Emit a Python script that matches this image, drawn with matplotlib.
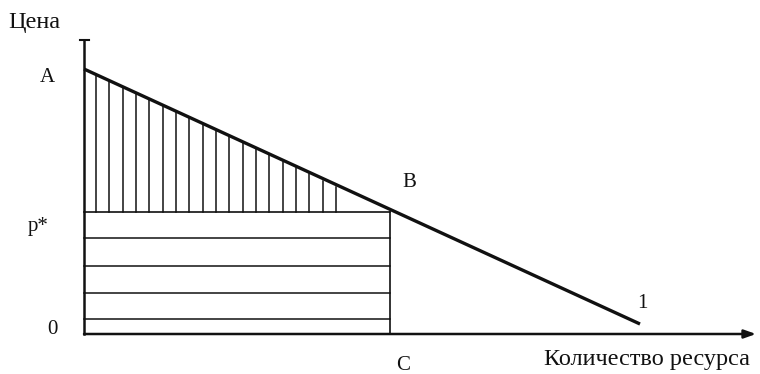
import matplotlib.pyplot as plt

# точки кривой спроса (цена от количества)
price_A = 265
p_star = 122
q_C = 306
q_end = 556
price_end = 10

# уровни горизонтальной штриховки (прямоугольник 0-p*-B-C)
h_levels = [96, 68, 41, 15]
# вертикальная штриховка треугольника A-p*-B
v_levels = [12, 25, 39, 52, 65, 79, 92, 105, 119, 132, 145, 159, 172, 185,
            199, 212, 225, 239, 252]

labels = {"A": (-37, 257), "B": (325, 152), "p*": (-46, 108),
          "0": (-32, 4), "C": (319, -31), "1": (558, 30)}


def demand(q):
    return price_A + (p_star - price_A) * q / q_C


plt.rcParams['font.family'] = ['Liberation Serif', 'DejaVu Serif']

fig = plt.figure(figsize=(7.6, 3.74), dpi=100)
ax = fig.add_axes([0, 0, 1, 1])
ax.set_xlim(-84, 676)
ax.set_ylim(-40, 334)
ax.axis('off')

ink = '#111111'

# оси
ax.annotate('', xy=(672, 0), xytext=(0, 0),
            arrowprops=dict(arrowstyle='-|>,head_length=0.7,head_width=0.25',
                            color=ink, lw=1.8, shrinkA=0, shrinkB=0))
ax.plot([0, 0], [0, 294], color=ink, lw=1.8)
ax.plot([-4, 5], [294, 294], color=ink, lw=1.5)

# штриховка
for y in h_levels:
    ax.plot([0, q_C], [y, y], color=ink, lw=1.1)
for x in v_levels:
    ax.plot([x, x], [p_star, demand(x)], color=ink, lw=1.1)
ax.plot([0, q_C], [p_star, p_star], color=ink, lw=1.2)
ax.plot([q_C, q_C], [0, p_star], color=ink, lw=1.2)

# кривая спроса
ax.plot([0, q_end], [price_A, price_end], color=ink, lw=2.4,
        solid_capstyle='butt')

for txt, (x, y) in labels.items():
    ax.text(x, y, txt, fontsize=15, color=ink, ha='center', va='center')

ax.text(-76, 312, 'Цена', fontsize=17.5, color=ink, ha='left', va='center')
ax.text(666, -25, 'Количество ресурса', fontsize=17.5, color=ink,
        ha='right', va='center')

fig.savefig('out.png', dpi=100)
